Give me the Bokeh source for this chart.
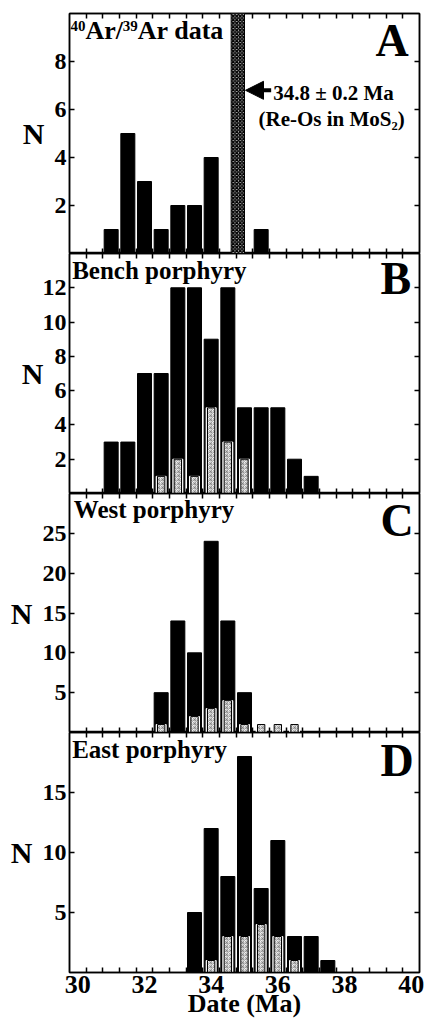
from bokeh.plotting import figure
from bokeh.models import (Range1d, FixedTicker, LinearAxis, Label, BoxAnnotation,
                          Arrow, NormalHead)
from bokeh.layouts import column
from bokeh.embed import file_html
from bokeh.resources import INLINE

FONT = "Liberation Serif"

# ---------------- data ----------------
X_MAJOR = [30, 32, 34, 36, 38, 40]
X_MINOR = [30.25, 30.75, 31.25, 31.75, 32.25, 32.75, 33.25, 33.75, 34.25, 34.75,
           35.25, 35.75, 36.25, 36.75, 37.25, 37.75, 38.25, 38.75, 39.25, 39.75]

A_bins = [31.0, 31.5, 32.0, 32.5, 33.0, 33.5, 34.0, 35.5]
A_counts = [1, 5, 3, 1, 2, 2, 4, 1]

B_bins = [31.0, 31.5, 32.0, 32.5, 33.0, 33.5, 34.0, 34.5, 35.0, 35.5, 36.0, 36.5, 37.0]
B_counts = [3, 3, 7, 7, 12, 12, 9, 12, 5, 5, 5, 2, 1]
B_subset = [0, 0, 0, 1, 2, 1, 5, 3, 2, 0, 0, 0, 0]

C_bins = [32.5, 33.0, 33.5, 34.0, 34.5, 35.0, 35.5, 36.0, 36.5]
C_counts = [5, 14, 10, 24, 14, 5, 0, 0, 0]
C_subset = [1, 0, 2, 3, 4, 1, 1, 1, 1]

D_bins = [33.5, 34.0, 34.5, 35.0, 35.5, 36.0, 36.5, 37.0, 37.5]
D_counts = [5, 12, 8, 18, 7, 11, 3, 3, 1]
D_subset = [0, 1, 3, 3, 4, 3, 1, 0, 0]

RE_OS_AGE = 34.8
RE_OS_ERR = 0.2

A_yticks = [2, 4, 6, 8]
B_yticks = [2, 4, 6, 8, 10, 12]
C_yticks = [5, 10, 15, 20, 25]
D_yticks = [5, 10, 15]

x_range = Range1d(29.75, 40.25)


def style_x(ax, labels):
    if labels:
        ax.ticker = FixedTicker(ticks=X_MAJOR, minor_ticks=X_MINOR)
        ax.major_label_text_font = FONT
        ax.major_label_text_font_style = "bold"
        ax.major_label_text_font_size = "26px"
        ax.major_label_text_color = "black"
        ax.major_label_standoff = 3
    else:
        ax.ticker = FixedTicker(ticks=[], minor_ticks=X_MINOR)
        ax.major_label_standoff = 0
    ax.major_tick_in = 0
    ax.major_tick_out = 0
    ax.minor_tick_in = 5
    ax.minor_tick_out = 0
    ax.minor_tick_line_width = 1.5
    ax.minor_tick_line_color = "black"
    ax.axis_line_width = 1.5
    ax.axis_line_color = "black"


def style_y(ax, ticks, labels):
    if labels:
        ax.ticker = FixedTicker(ticks=ticks)
        ax.major_tick_in = 5
        ax.major_tick_out = 0
        ax.minor_tick_in = 0
        ax.minor_tick_out = 0
        ax.major_tick_line_width = 1.5
        ax.major_tick_line_color = "black"
        ax.major_label_text_font = FONT
        ax.major_label_text_font_style = "bold"
        ax.major_label_text_font_size = "24px"
        ax.major_label_text_color = "black"
        ax.major_label_standoff = 3
    else:
        ax.ticker = FixedTicker(ticks=[], minor_ticks=ticks)
        ax.major_tick_in = 0
        ax.major_tick_out = 0
        ax.minor_tick_in = 5
        ax.minor_tick_out = 0
        ax.minor_tick_line_width = 1.5
        ax.minor_tick_line_color = "black"
        ax.major_label_standoff = 0
    ax.axis_line_width = 1.5
    ax.axis_line_color = "black"


def panel(bins, counts, subset, ymax, yticks, height, top, bottom, n_standoff, last=False):
    p = figure(width=425, height=height, x_range=x_range, y_range=Range1d(0, ymax),
               output_backend="svg", toolbar_location=None,
               min_border_left=69, min_border_right=6,
               min_border_top=top, min_border_bottom=bottom)
    p.xgrid.visible = False
    p.ygrid.visible = False
    p.outline_line_color = "black"
    p.outline_line_width = 1.5
    p.background_fill_color = "white"
    p.border_fill_color = "white"
    bottom_ax = p.xaxis[0]
    left_ax = p.yaxis[0]
    style_x(bottom_ax, last)
    style_y(left_ax, yticks, True)
    top_ax = LinearAxis()
    style_x(top_ax, False)
    p.add_layout(top_ax, "above")
    right_ax = LinearAxis()
    style_y(right_ax, yticks, False)
    p.add_layout(right_ax, "right")

    left_ax.axis_label = "N"
    left_ax.axis_label_text_font = FONT
    left_ax.axis_label_text_font_style = "bold"
    left_ax.axis_label_text_font_size = "30px"
    left_ax.axis_label_text_color = "black"
    left_ax.axis_label_standoff = n_standoff
    try:
        left_ax.axis_label_orientation = "horizontal"
    except Exception:
        pass

    p.vbar(x=bins, top=counts, width=0.42, bottom=0,
           fill_color="black", line_color="black")
    if subset is not None:
        sb = [b for b, s in zip(bins, subset) if s > 0]
        ss = [s for s in subset if s > 0]
        p.vbar(x=sb, top=ss, width=0.3, bottom=0, fill_color="white", line_color="white",
               line_width=1)
        p.vbar(x=sb, top=ss, width=0.22, bottom=0, fill_color="#f2f2f2",
               line_color="black", line_width=1,
               hatch_pattern="criss_cross", hatch_color="#777777", hatch_scale=4,
               hatch_weight=0.6)
    if last:
        bottom_ax.axis_label = "Date (Ma)"
        bottom_ax.axis_label_text_font = FONT
        bottom_ax.axis_label_text_font_style = "bold"
        bottom_ax.axis_label_text_font_size = "26px"
        bottom_ax.axis_label_text_color = "black"
        bottom_ax.axis_label_standoff = -7
    return p


def txt(p, x, y, text, size, align="left", baseline="alphabetic"):
    p.add_layout(Label(x=x, y=y, text=text, text_font=FONT, text_font_style="bold",
                       text_font_size=size, text_color="black",
                       text_align=align, text_baseline=baseline))


pA = panel(A_bins, A_counts, None, 10, A_yticks, 253, 13, 0, 7)
pB = panel(B_bins, B_counts, B_subset, 14, B_yticks, 240, 0, 0, -4)
pC = panel(C_bins, C_counts, C_subset, 30, C_yticks, 239, 0, 0, 7)
pD = panel(D_bins, D_counts, D_subset, 20, D_yticks, 292, 0, 52, 7, last=True)

# Re-Os band
pA.add_layout(BoxAnnotation(left=RE_OS_AGE - RE_OS_ERR, right=RE_OS_AGE + RE_OS_ERR,
                            fill_color="#c8c8c8", fill_alpha=1.0,
                            hatch_pattern="diagonal_cross", hatch_color="black",
                            hatch_scale=3.5, hatch_weight=1.5,
                            line_color="black", line_width=1, line_alpha=1.0))
pA.add_layout(Arrow(end=NormalHead(size=18, fill_color="black", line_color="black"),
                    x_start=35.8, y_start=6.8, x_end=35.03, y_end=6.8,
                    line_width=4, line_color="black"))
txt(pA, 35.86, 6.70, "34.8 \u00b1 0.2 Ma", "21px")
txt(pA, 35.42, 5.61, "(Re-Os in MoS\u2082)", "21px")

# "40Ar/39Ar data" with raised isotope numbers
txt(pA, 29.78, 9.50, "40", "15px")
txt(pA, 30.23, 9.28, "Ar/", "26px")
txt(pA, 31.35, 9.50, "39", "15px")
txt(pA, 31.8, 9.28, "Ar data", "26px")
txt(pA, 38.93, 8.86, "A", "46px")

txt(pB, 29.83, 12.99, "Bench porphyry", "25px")
txt(pB, 39.08, 12.53, "B", "46px")

txt(pC, 29.88, 27.95, "West porphyry", "25px")
txt(pC, 39.08, 26.58, "C", "46px")

txt(pD, 29.83, 18.61, "East porphyry", "25px")
txt(pD, 39.08, 17.65, "D", "46px")

layout = column(pA, pB, pC, pD, spacing=0)
open("out.html", "w").write(file_html(layout, INLINE))
